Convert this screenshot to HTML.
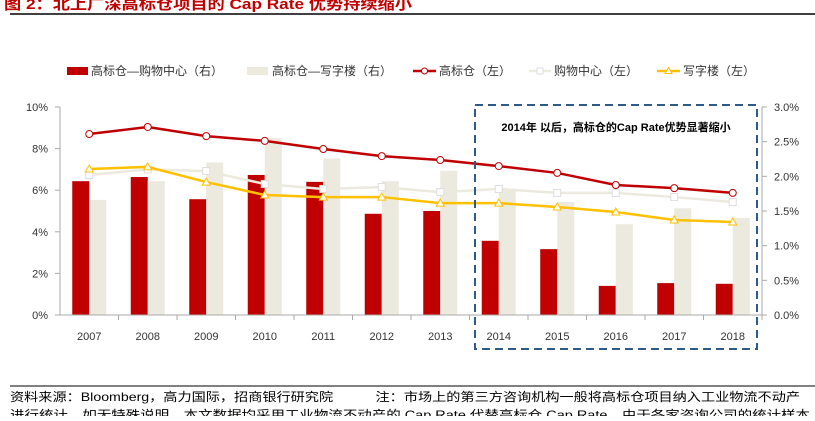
<!DOCTYPE html>
<html><head><meta charset="utf-8"><style>
body{margin:0;background:#fff;width:815px;height:416px;overflow:hidden;font-family:"Liberation Sans","Noto Sans CJK SC",sans-serif}
svg text{font-family:"Liberation Sans","Noto Sans CJK SC",sans-serif}
</style></head><body>
<svg id="c" width="815" height="416" xmlns="http://www.w3.org/2000/svg">
<text x="4" y="9" font-size="15" font-weight="bold" fill="#c00000" textLength="408" lengthAdjust="spacingAndGlyphs">图 2：北上广深高标仓项目的 Cap Rate 优势持续缩小</text>
<line x1="10" y1="14" x2="815" y2="14" stroke="#000" stroke-width="1.5"/>
<g id="legend" font-size="12" fill="#333">
<rect x="67" y="67" width="21" height="8" fill="#c00000"/>
<text x="91" y="75">高标仓—购物中心（右）</text>
<rect x="247" y="67" width="21" height="8" fill="#ece9df"/>
<text x="272" y="75">高标仓—写字楼（右）</text>
<line x1="413" y1="71" x2="436" y2="71" stroke="#c00000" stroke-width="2.5"/><circle cx="424.5" cy="71" r="3" fill="#fff" stroke="#c00000"/>
<text x="439" y="75">高标仓（左）</text>
<line x1="529" y1="71" x2="551" y2="71" stroke="#ece9df" stroke-width="2.5"/><rect x="537" y="68" width="6" height="6" fill="#fff" stroke="#ddd"/>
<text x="554" y="75">购物中心（左）</text>
<line x1="657" y1="71" x2="680" y2="71" stroke="#ffc000" stroke-width="2.5"/><path d="M668.5 67.5 L672 73.5 L665 73.5Z" fill="#fff" stroke="#ffc000"/>
<text x="683" y="75">写字楼（左）</text>
</g>
<g id="plot"></g>
<rect x="475" y="105" width="282" height="244" fill="none" stroke="#2e5a8a" stroke-width="2" stroke-dasharray="8,5"/>
<text x="616" y="131" text-anchor="middle" font-size="11" font-weight="bold" fill="#000">2014年 以后，高标仓的Cap Rate优势显著缩小</text>
<text x="10" y="401" font-size="12" fill="#000" textLength="790" lengthAdjust="spacingAndGlyphs">资料来源：Bloomberg，高力国际，招商银行研究院　　　注：市场上的第三方咨询机构一般将高标仓项目纳入工业物流不动产</text>
<text x="10" y="419" font-size="12" fill="#000" textLength="800" lengthAdjust="spacingAndGlyphs">进行统计，如无特殊说明，本文数据均采用工业物流不动产的 Cap Rate 代替高标仓 Cap Rate，由于各家咨询公司的统计样本</text>
<line x1="10" y1="386" x2="815" y2="386" stroke="#000" stroke-width="1"/>
</svg>
<script>
const years=['2007','2008','2009','2010','2011','2012','2013','2014','2015','2016','2017','2018'];
const spreadMall=[1.93,1.99,1.67,2.02,1.92,1.46,1.50,1.07,0.95,0.42,0.46,0.45];
const spreadOffice=[1.66,1.93,2.20,2.55,2.26,1.93,2.08,1.82,1.63,1.31,1.54,1.40];
const warehouse=[8.7,9.04,8.6,8.37,7.98,7.64,7.45,7.16,6.83,6.25,6.1,5.87];
const shopping=[6.73,7.0,6.92,6.3,6.06,6.15,5.91,6.06,5.87,5.87,5.67,5.43];
const office=[7.02,7.12,6.39,5.77,5.67,5.67,5.38,5.38,5.19,4.95,4.57,4.47];
const leftTicks=['0%','2%','4%','6%','8%','10%'];
const rightTicks=['0.0%','0.5%','1.0%','1.5%','2.0%','2.5%','3.0%'];
const X0=60,X1=762,Y0=315,Y1=107,bw=(X1-X0)/years.length;
const xc=i=>X0+bw*(i+0.5);
const yl=v=>Y0-(v/10)*(Y0-Y1);
const yr=v=>Y0-(v/3)*(Y0-Y1);
const ns='http://www.w3.org/2000/svg',g=document.getElementById('plot');
function mk(t,a){const e=document.createElementNS(ns,t);for(const k in a)e.setAttribute(k,a[k]);g.appendChild(e);return e;}
leftTicks.forEach((t,i)=>{const y=yl(i*2);
 const e=mk('text',{x:X0-12,y:y+4,'text-anchor':'end','font-size':11,fill:'#333'});e.textContent=t;
 
 
 mk('line',{x1:X0-5,x2:X0,y1:y,y2:y,stroke:'#aaa'});});
rightTicks.forEach((t,i)=>{const y=yr(i*0.5);
 const e=mk('text',{x:X1+12,y:y+4,'font-size':11,fill:'#333'});e.textContent=t;
 
 
 mk('line',{x1:X1,x2:X1+5,y1:y,y2:y,stroke:'#aaa'});});
mk('line',{x1:X0,x2:X0,y1:Y1,y2:Y0,stroke:'#aaa'});
mk('line',{x1:X1,x2:X1,y1:Y1,y2:Y0,stroke:'#aaa'});
years.forEach((yv,i)=>{
 const b1=mk('rect',{x:xc(i)-17,y:yr(spreadMall[i]),width:17,height:Y0-yr(spreadMall[i]),fill:'#c00000'});
 
 
 const b2=mk('rect',{x:xc(i),y:yr(spreadOffice[i]),width:17,height:Y0-yr(spreadOffice[i]),fill:'#ece9df'});
 
 
 const t=mk('text',{x:xc(i),y:Y0+25,'text-anchor':'middle','font-size':11,fill:'#333'});t.textContent=yv;
 
 
 mk('line',{x1:X0+bw*(i+1),x2:X0+bw*(i+1),y1:Y0,y2:Y0+5,stroke:'#aaa'});
});
mk('line',{x1:X0,x2:X1,y1:Y0,y2:Y0,stroke:'#aaa'});
function line(arr,col,name,mark){
 const p=mk('polyline',{points:arr.map((v,i)=>xc(i)+','+yl(v)).join(' '),fill:'none',stroke:col,'stroke-width':2.5});
 
 
 arr.forEach((v,i)=>{const x=xc(i),y=yl(v);let m;
  if(mark==='c')m=mk('circle',{cx:x,cy:y,r:3.5,fill:'#fff',stroke:col});
  else if(mark==='s')m=mk('rect',{x:x-3.5,y:y-3.5,width:7,height:7,fill:'#fff',stroke:'#ddd'});
  else m=mk('path',{d:`M${x} ${y-4}L${x+4} ${y+3}L${x-4} ${y+3}Z`,fill:'#fff',stroke:col});
  
  });
}
line(shopping,'#ece9df','line-shopping','s');
line(office,'#ffc000','line-office','t');
line(warehouse,'#c00000','line-warehouse','c');
</script>
</body></html>
